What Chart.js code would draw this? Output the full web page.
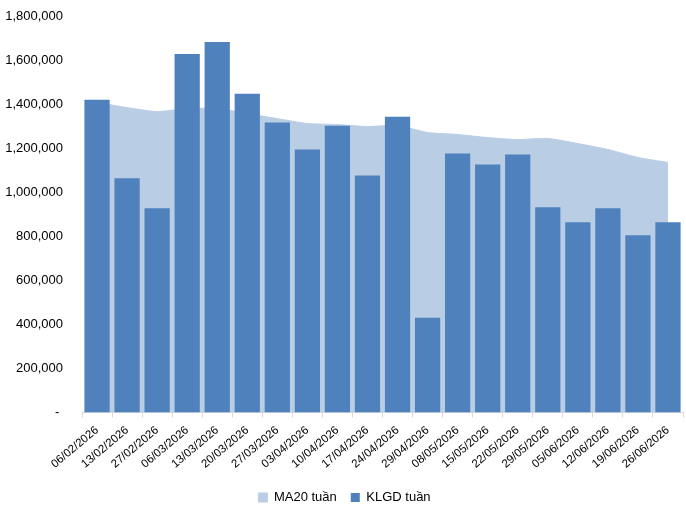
<!DOCTYPE html>
<html>
<head>
<meta charset="utf-8">
<script src="https://cdn.jsdelivr.net/npm/chart.js@4/dist/chart.umd.min.js"></script>
<style>
  html, body { margin: 0; padding: 0; background: #fff; }
  #wrap { width: 686px; height: 514px; }
</style>
</head>
<body>
<div id="wrap"><canvas id="chart"></canvas></div>
<script>
const weeks = ['06/02/2026','13/02/2026','27/02/2026','06/03/2026','13/03/2026','20/03/2026','27/03/2026','03/04/2026','10/04/2026','17/04/2026','24/04/2026','29/04/2026','08/05/2026','15/05/2026','22/05/2026','29/05/2026','05/06/2026','12/06/2026','19/06/2026','26/06/2026'];
const klgd = [1420000,1063000,927000,1628000,1682000,1447000,1316000,1194000,1302000,1076000,1343000,430000,1176000,1126000,1171000,932000,864000,927000,805000,864000];
const ma20 = [1408000,1384000,1366000,1380000,1380000,1357000,1334000,1312000,1307000,1298000,1303000,1271000,1262000,1248000,1239000,1244000,1221000,1194000,1158000,1135000];
const yTicks = [0,200000,400000,600000,800000,1000000,1200000,1400000,1600000,1800000];

Chart.defaults.font.family = '"Liberation Sans", Arial, sans-serif';
Chart.defaults.color = '#000';

new Chart(document.getElementById('chart'), {
    type: 'bar',
    data: {
        labels: weeks,
        datasets: [
            {
                type: 'line',
                label: 'MA20 tuần',
                data: ma20,
                backgroundColor: '#B9CDE5',
                borderColor: '#B9CDE5',
                borderWidth: 1,
                fill: 'origin',
                pointRadius: 0,
                tension: 0.2,
                order: 2
            },
            {
                label: 'KLGD tuần',
                data: klgd,
                backgroundColor: '#4F81BD',
                barPercentage: 0.84,
                categoryPercentage: 1,
                order: 1
            }
        ]
    },
    options: {
        responsive: true,
        maintainAspectRatio: false,
        animation: false,
        layout: { padding: { top: 16, right: 3, left: 6, bottom: 0 } },
        plugins: {
            tooltip: { enabled: false },
            legend: {
                position: 'bottom',
                labels: {
                    boxWidth: 9,
                    boxHeight: 9,
                    padding: 14,
                    font: { size: 13 },
                    sort: (a, b) => a.datasetIndex - b.datasetIndex
                }
            }
        },
        scales: {
            x: {
                grid: { display: true, drawOnChartArea: false, offset: true, color: '#D9D9D9', tickLength: 5 },
                border: { color: '#D9D9D9' },
                ticks: { maxRotation: 40, minRotation: 40, autoSkip: false, font: { size: 11.5 }, padding: 6 },
                afterFit: s => { s.paddingLeft = 0; s.paddingRight = 0; }
            },
            y: {
                min: 0,
                max: 1800000,
                afterBuildTicks: axis => { axis.ticks = yTicks.map(v => ({ value: v })); },
                afterFit: s => { s.width = 76; s.paddingTop = 0; s.paddingBottom = 0; },
                grid: { display: false, drawTicks: false },
                border: { display: false },
                ticks: {
                    padding: 19,
                    font: { size: 13 },
                    callback: v => v === 0 ? '- ' : v.toLocaleString('en-US')
                }
            }
        }
    }
});
</script>
</body>
</html>
